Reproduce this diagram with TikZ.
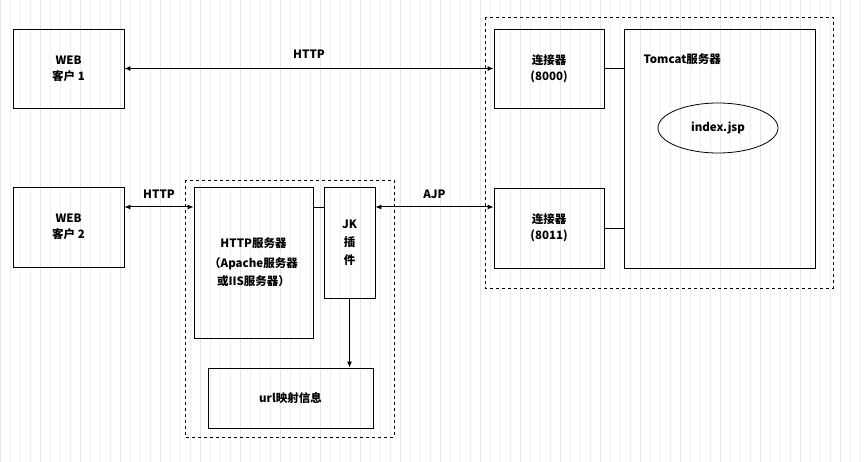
\documentclass[tikz,border=0pt]{standalone}
\usepackage{fontspec}
\setmainfont{Noto Sans CJK SC}
\usetikzlibrary{arrows.meta,shapes.geometric}
\begin{document}
\begin{tikzpicture}[x=1pt,y=-1pt,
  box/.style={draw,line width=0.8pt,inner sep=0,align=center,font=\fontsize{11.5}{16}\selectfont\bfseries},
  lbl/.style={font=\fontsize{11.5}{14}\selectfont\bfseries},
  dbl/.style={line width=1pt,{Latex[length=6pt,width=5pt]}-{Latex[length=6pt,width=5pt]}},
  dsh/.style={draw,dashed,line width=0.6pt}]
\useasboundingbox (0,0) rectangle (867,462);
\draw[black!6,line width=0.4pt] (0,0) grid[step=10] (867,462);
\draw[black!10,line width=0.5pt] (0,0) grid[step=40] (867,462);
\draw[dsh] (485,17) rectangle (833,288);
\draw[dsh] (185,180) rectangle (394,437);
\node[box,minimum width=111,minimum height=79] (c1) at (68.5,68.5) {WEB\\客户 1};
\node[box,minimum width=111,minimum height=80] (c2) at (68.5,227) {WEB\\客户 2};
\node[box,minimum width=119,minimum height=151] (hs) at (253.5,262.5) {HTTP服务器\\[4pt]（Apache服务器\\[2pt]或IIS服务器）};
\node[box,minimum width=51,minimum height=111] (jk) at (349.5,242.5) {JK\\[2pt]插\\[2pt]件};
\node[box,minimum width=165,minimum height=60] (url) at (290.5,398) {url映射信息};
\node[box,minimum width=110,minimum height=79] (k1) at (549,68.5) {连接器\\(8000)};
\node[box,minimum width=110,minimum height=80] (k2) at (549,228) {连接器\\(8011)};
\node[draw,line width=0.8pt,minimum width=191,minimum height=239,inner sep=0] (tc) at (719.5,148.5) {};
\node[lbl,anchor=west] (tcl) at (640,59) {Tomcat服务器};
\node[draw,ellipse,line width=0.8pt,minimum width=120,minimum height=50,font=\fontsize{11.5}{14}\selectfont\bfseries] (ix) at (718,128) {index.jsp};
\draw[line width=0.8pt] (k1.east) -- (k1.east -| tc.west);
\draw[line width=0.8pt] (k2.east) -- (k2.east -| tc.west);
\draw[line width=0.8pt] (hs.east |- 0,207) -- (jk.west |- 0,207);
\draw[dbl] (c1.east) -- (k1.west) node[lbl,midway,above=6pt] {HTTP};
\draw[dbl] (c2.east |- 0,207) -- (hs.west |- 0,207) node[lbl,midway,above=5pt] {HTTP};
\draw[dbl] (jk.east |- 0,207) -- (k2.west |- 0,207) node[lbl,midway,above=5pt] {AJP};
\draw[line width=1pt,-{Latex[length=6pt,width=5pt]}] (jk.south) -- (url.north -| jk.south);
\end{tikzpicture}
\end{document}
